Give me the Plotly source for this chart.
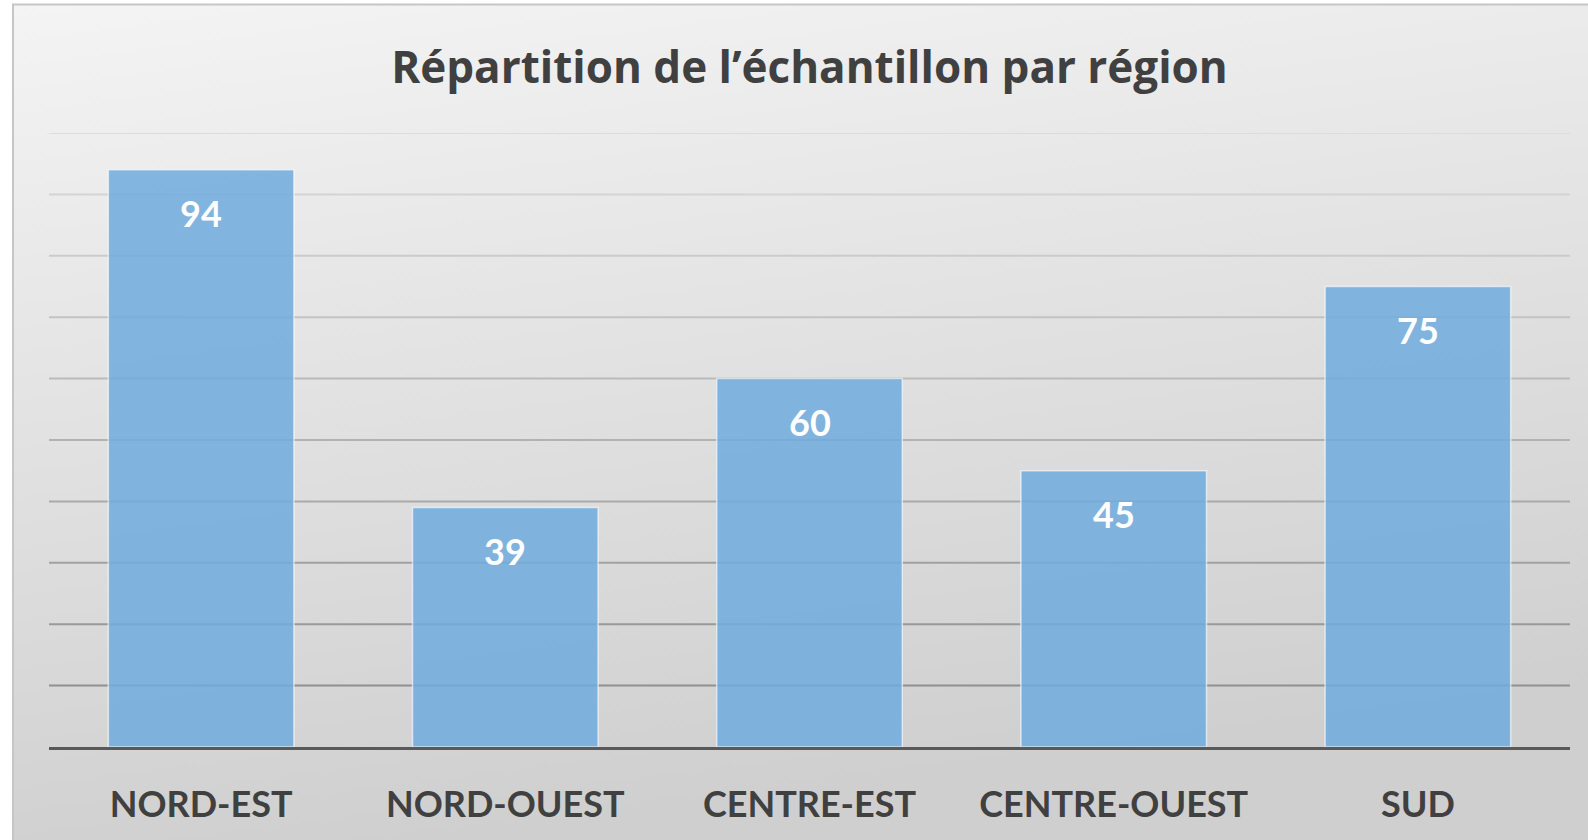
import base64
import plotly.graph_objects as go

categories = ["NORD-EST", "NORD-OUEST", "CENTRE-EST", "CENTRE-OUEST", "SUD"]
values = [94, 39, 60, 45, 75]
grid_values = [10, 20, 30, 40, 50, 60, 70, 80, 90, 100]
title_text = "Répartition de l’échantillon par région"

W, H = 1588, 840
L, R, T, B = 49, 18, 133, 93
PW, PH = W - L - R, H - T - B

svg = f'''<svg xmlns="http://www.w3.org/2000/svg" width="{W}" height="{H}" viewBox="0 0 {W} {H}">
<defs><linearGradient id="g" x1="0" y1="0" x2="0.25" y2="1">
<stop offset="0" stop-color="#f4f4f4"/><stop offset="1" stop-color="#cfcfcf"/></linearGradient></defs>
<rect x="0" y="0" width="{W}" height="{H}" fill="#ffffff"/>
<rect x="13" y="4.5" width="{W}" height="{H}" fill="url(#g)" stroke="#c6c6c6" stroke-width="2"/>
</svg>'''
src = "data:image/svg+xml;base64," + base64.b64encode(svg.encode()).decode()

fig = go.Figure()
fig.add_trace(go.Bar(
    x=categories, y=values,
    marker=dict(color="rgba(112,172,222,0.86)", line=dict(color="rgba(255,255,255,0.6)", width=1.5)),
    width=0.61, hoverinfo="skip",
))

annotations = []
for c, v in zip(categories, values):
    annotations.append(dict(x=c, y=v, xref="x", yref="y", text=f"<b>{v}</b>", showarrow=False,
                            yshift=-43, font=dict(family="Lato", size=36, color="white")))

def lerp(a, b, t):
    return int(round(a + (b - a) * t))

shapes = []
for gv in grid_values:
    t = 1 - gv / 100
    c = lerp(0xdc, 0x88, t)
    shapes.append(dict(type="line", xref="paper", x0=0, x1=1, yref="y", y0=gv, y1=gv,
                       line=dict(color=f"rgb({c},{c},{c})", width=2), layer="below"))

fig.update_layout(
    width=W, height=H,
    margin=dict(l=L, r=R, t=T, b=B, pad=0),
    paper_bgcolor="white", plot_bgcolor="rgba(0,0,0,0)",
    showlegend=False,
    title=dict(text=f"<b>{title_text}</b>", x=0.5, xref="paper", xanchor="center",
               y=1 - 68 / H, yanchor="middle", yref="container",
               font=dict(family="Open Sans", size=44, color="#404040")),
    images=[dict(source=src, xref="paper", yref="paper", x=-L / PW, y=1 + T / PH,
                 sizex=W / PW, sizey=H / PH, xanchor="left", yanchor="top",
                 sizing="stretch", layer="below")],
    shapes=shapes,
    annotations=annotations,
    bargap=0.39,
)
fig.update_xaxes(showgrid=False, showline=True, linecolor="#595959", linewidth=3,
                 ticks="", ticklabelstandoff=24,
                 tickfont=dict(family="Lato", size=36, color="#404040"),
                 tickprefix="<b>", ticksuffix="</b>")
fig.update_yaxes(range=[0, 100], showgrid=False, zeroline=False, showticklabels=False,
                 fixedrange=True)

fig.write_html("out.html", config={"displayModeBar": False},
               post_script="document.body.style.margin='0';document.body.style.padding='0';"
                           "document.body.style.overflow='hidden';")
